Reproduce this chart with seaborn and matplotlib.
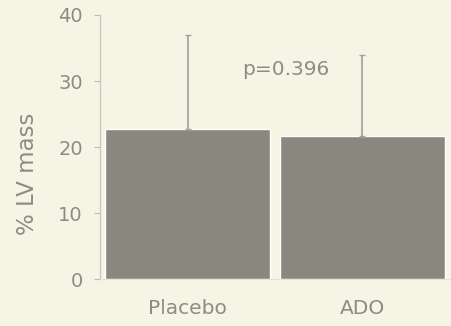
import numpy as np
import pandas as pd
import matplotlib
matplotlib.use("Agg")
import matplotlib.pyplot as plt
import seaborn as sns

groups = ["Placebo", "ADO"]
means = [22.7, 21.7]
sd_upper = [14.3, 12.2]
p_label = "p=0.396"

bg = "#f5f5e6"
bar_color = "#88887f"
text_color = "#8c8c84"

sns.set_theme(style="white")
plt.rcParams["font.family"] = ["DejaVu Sans"]

df = pd.DataFrame({"group": groups, "mean": means})

fig, ax = plt.subplots(figsize=(4.52, 3.26), dpi=100)
fig.patch.set_facecolor(bg)
ax.set_facecolor(bg)

sns.barplot(data=df, x="group", y="mean", color=bar_color, width=0.945,
            saturation=1, errorbar=None, ax=ax)

# only the upper half of the error bar is drawn
ax.errorbar(x=np.arange(len(groups)), y=means, yerr=[[0] * len(groups), sd_upper],
            fmt="none", ecolor="#a0a098", elinewidth=1.2, capsize=2, capthick=1.0)

ax.text(0.56, 31.7, p_label, ha="center", va="center", fontsize=14.5, color=text_color)

ax.set_ylim(0, 40)
ax.set_xlim(-0.5, 1.5)
ax.set_yticks([0, 10, 20, 30, 40])
ax.set_xlabel("")
ax.set_ylabel("% LV mass", fontsize=16.5, color=text_color)
ax.yaxis.set_label_coords(-0.175, 0.40)
ax.tick_params(axis="y", colors="#bdbdb4", labelcolor=text_color, labelsize=14,
               left=True, length=4.5, width=0.8, pad=8)
ax.tick_params(axis="x", labelcolor=text_color, labelsize=14.5, bottom=False, pad=8)

sns.despine(ax=ax, top=True, right=True)
ax.spines["left"].set_color("#c6c6bc")
ax.spines["left"].set_linewidth(0.9)
ax.spines["bottom"].set_color("#e2e2d6")
ax.spines["bottom"].set_linewidth(0.8)

plt.subplots_adjust(left=0.222, right=0.995, top=0.954, bottom=0.144)
plt.savefig("out.png", dpi=100, facecolor=bg)
